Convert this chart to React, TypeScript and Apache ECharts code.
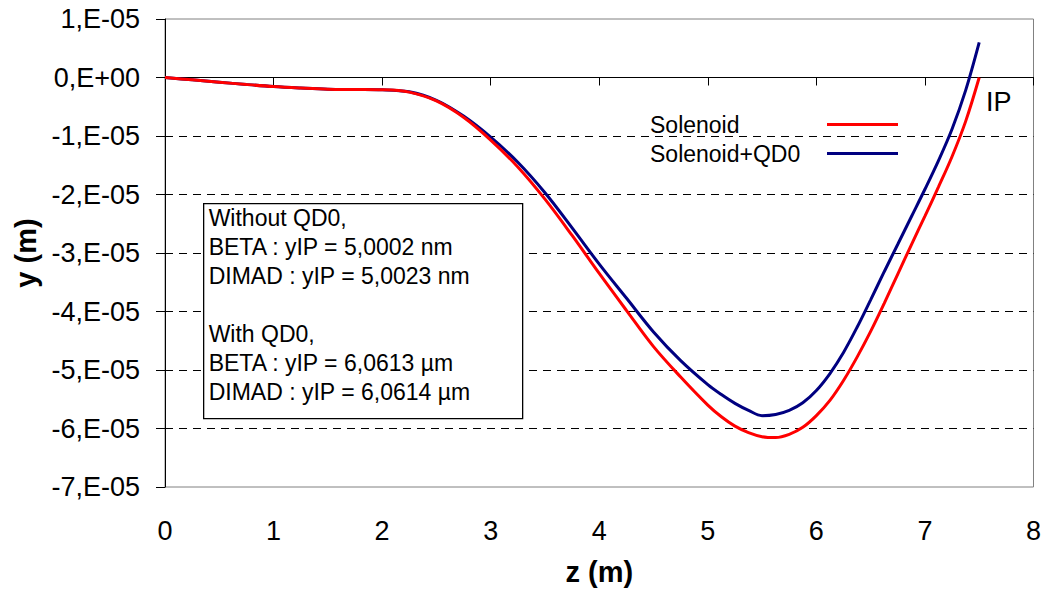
import React, { useEffect, useRef } from "react";
import * as echarts from "echarts";

const zValues = [0, 0.25, 0.5, 0.75, 1, 1.25, 1.5, 1.75, 2, 2.25, 2.5, 2.75, 3, 3.25, 3.5, 3.75, 4, 4.25, 4.5, 4.75, 5, 5.125, 5.25, 5.375, 5.5, 5.625, 5.75, 5.875, 6, 6.125, 6.25, 6.375, 6.5, 6.625, 6.75, 6.875, 7, 7.125, 7.25, 7.375, 7.5];
// y in units of 1e-5 m
const solenoid = [0, -0.04, -0.08, -0.12, -0.155, -0.18, -0.2, -0.205, -0.21, -0.25, -0.4, -0.68, -1.07, -1.53, -2.08, -2.7, -3.35, -3.98, -4.6, -5.12, -5.6, -5.8, -5.96, -6.07, -6.14, -6.155, -6.1, -5.98, -5.78, -5.52, -5.18, -4.78, -4.34, -3.86, -3.36, -2.86, -2.37, -1.87, -1.35, -0.75, 0];
const solenoidQD0 = [0, -0.04, -0.08, -0.12, -0.155, -0.18, -0.2, -0.205, -0.21, -0.245, -0.39, -0.66, -1.02, -1.45, -1.97, -2.57, -3.19, -3.77, -4.35, -4.84, -5.25, -5.42, -5.57, -5.69, -5.78, -5.76, -5.69, -5.56, -5.35, -5.06, -4.7, -4.27, -3.8, -3.32, -2.85, -2.38, -1.91, -1.42, -0.88, -0.22, 0.6];
const seriesNames = ["Solenoid", "Solenoid+QD0"];
const seriesColors = ["#FF0000", "#000080"];
const yTickMin = -7;
const yTickMax = 1;
const boxLines = [
  "Without QD0,",
  "BETA : yIP = 5,0002 nm",
  "DIMAD : yIP = 5,0023 nm",
  "",
  "With QD0,",
  "BETA : yIP = 6,0613 µm",
  "DIMAD : yIP = 6,0614 µm",
];

const FONT = "'Liberation Sans', Arial, sans-serif";

export default function App() {
  const ref = useRef<HTMLDivElement>(null);
  useEffect(() => {
    if (!ref.current) return;
    const chart = echarts.init(ref.current, null, { renderer: "svg" });
    const toPairs = (ys: number[]) => zValues.map((z, i) => [z, ys[i] * 1e-5]);
    const fmtY = (v: number) => {
      const m = Math.round(v / 1e-5);
      if (m === 0) return "0,E+00";
      return `${m},E-05`;
    };
    const splitColors: string[] = [];
    for (let t = yTickMin; t <= yTickMax; t++) {
      splitColors.push(t === yTickMin || t === yTickMax || t === 0 ? "rgba(0,0,0,0)" : "#000");
    }
    chart.setOption({
      animation: false,
      textStyle: { fontFamily: FONT },
      grid: {
        left: 165,
        right: 10,
        top: 19,
        bottom: 102,
        show: true,
        borderColor: "#808080",
        borderWidth: 1,
        backgroundColor: "#fff",
      },
      legend: {
        orient: "vertical",
        align: "right",
        left: 650,
        top: 113,
        padding: 0,
        itemGap: 6,
        itemWidth: 71,
        itemHeight: 3,
        icon: "rect",
        data: seriesNames,
        formatter: (name: string) => `{a|${name}}`,
        textStyle: {
          rich: {
            a: { width: 172, align: "left", fontSize: 23, color: "#000", fontFamily: FONT },
          },
        },
      },
      xAxis: [
        {
          type: "value",
          min: 0,
          max: 8,
          interval: 1,
          position: "top",
          axisLine: { show: true, onZero: true, lineStyle: { color: "#000", width: 1 } },
          axisTick: { show: true, inside: true, length: 8, lineStyle: { color: "#000" } },
          axisLabel: { show: false },
          splitLine: { show: false },
        },
        {
          type: "value",
          min: 0,
          max: 8,
          interval: 1,
          position: "bottom",
          axisLine: { show: false, onZero: false },
          axisTick: { show: false },
          axisLabel: { show: true, fontSize: 27, color: "#000", margin: 30, fontFamily: FONT },
          splitLine: { show: false },
          name: "z (m)",
          nameLocation: "middle",
          nameGap: 70,
          nameTextStyle: { fontSize: 29, fontWeight: "bold", color: "#000", fontFamily: FONT },
        },
      ],
      yAxis: {
        type: "value",
        min: yTickMin * 1e-5,
        max: yTickMax * 1e-5,
        interval: 1e-5,
        axisLine: { show: true, onZero: false, lineStyle: { color: "#000", width: 1 } },
        axisTick: { show: true, inside: false, length: 9, lineStyle: { color: "#000" } },
        axisLabel: { fontSize: 27, color: "#000", margin: 25, formatter: fmtY, fontFamily: FONT },
        splitLine: { show: true, lineStyle: { color: splitColors, type: [8, 6], width: 1 } },
        name: "y (m)",
        nameLocation: "middle",
        nameGap: 122,
        nameRotate: 90,
        nameTextStyle: { fontSize: 29, fontWeight: "bold", color: "#000", fontFamily: FONT },
      },
      series: [
        {
          name: seriesNames[0],
          type: "line",
          xAxisIndex: 0,
          data: toPairs(solenoid),
          smooth: 0.35,
          symbol: "none",
          showSymbol: false,
          lineStyle: { color: seriesColors[0], width: 3 },
          itemStyle: { color: seriesColors[0] },
          z: 3,
        },
        {
          name: seriesNames[1],
          type: "line",
          xAxisIndex: 0,
          data: toPairs(solenoidQD0),
          smooth: 0.35,
          symbol: "none",
          showSymbol: false,
          lineStyle: { color: seriesColors[1], width: 3 },
          itemStyle: { color: seriesColors[1] },
          z: 2,
        },
      ],
      graphic: [
        {
          type: "group",
          left: 203,
          top: 203,
          z: 100,
          children: [
            {
              type: "rect",
              z: 100,
              shape: { x: 0, y: 0, width: 319, height: 215 },
              style: { fill: "#fff", stroke: "#000", lineWidth: 1.3 },
            },
            {
              type: "text",
              z: 101,
              x: 5,
              y: 0,
              style: {
                text: boxLines.join("\n"),
                fontSize: 23,
                lineHeight: 29,
                fontFamily: FONT,
                fill: "#000",
              },
            },
          ],
        },
        {
          type: "text",
          left: 986,
          top: 88,
          z: 100,
          style: { text: "IP", fontSize: 27, fontFamily: FONT, fill: "#000" },
        },
      ],
    });
    return () => chart.dispose();
  }, []);
  return (
    <div
      ref={ref}
      style={{ position: "fixed", left: 0, top: 0, width: 1044, height: 591, background: "#fff" }}
    />
  );
}
